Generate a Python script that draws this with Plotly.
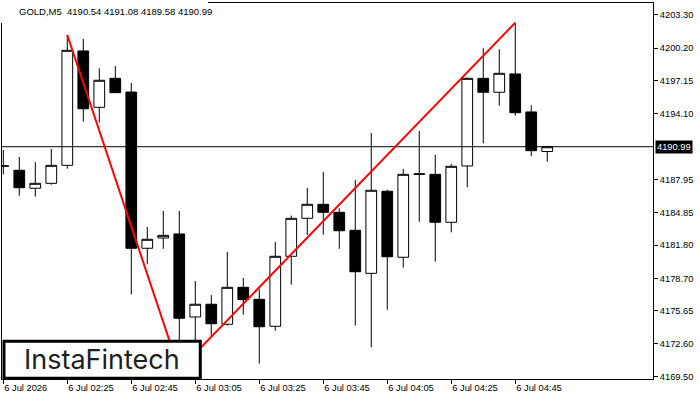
import plotly.graph_objects as go
import pandas as pd

# ---- data ----
times = ["2026-07-06 02:05", "2026-07-06 02:10", "2026-07-06 02:15", "2026-07-06 02:20",
         "2026-07-06 02:25", "2026-07-06 02:30", "2026-07-06 02:35", "2026-07-06 02:40",
         "2026-07-06 02:45", "2026-07-06 02:50", "2026-07-06 02:55", "2026-07-06 03:00",
         "2026-07-06 03:05", "2026-07-06 03:10", "2026-07-06 03:15", "2026-07-06 03:20",
         "2026-07-06 03:25", "2026-07-06 03:30", "2026-07-06 03:35", "2026-07-06 03:40",
         "2026-07-06 03:45", "2026-07-06 03:50", "2026-07-06 03:55", "2026-07-06 04:00",
         "2026-07-06 04:05", "2026-07-06 04:10", "2026-07-06 04:15", "2026-07-06 04:20",
         "2026-07-06 04:25", "2026-07-06 04:30", "2026-07-06 04:35", "2026-07-06 04:40",
         "2026-07-06 04:45", "2026-07-06 04:50", "2026-07-06 04:55"]
open_ = [4189.19, 4188.79, 4187.11, 4187.57, 4189.25, 4199.94, 4194.67, 4197.38, 4196.10, 4181.50,
         4182.46, 4182.84, 4175.08, 4176.27, 4174.40, 4177.85, 4176.73, 4174.21, 4180.75, 4184.30,
         4185.61, 4184.86, 4183.18, 4179.16, 4186.83, 4180.66, 4188.41, 4188.41, 4183.93, 4189.19,
         4197.38, 4196.08, 4197.79, 4194.24, 4190.54]
high = [4190.68, 4190.03, 4189.54, 4190.78, 4201.43, 4201.06, 4198.32, 4198.53, 4196.95, 4183.49,
        4184.98, 4184.98, 4178.44, 4177.13, 4181.15, 4178.72, 4177.67, 4182.09, 4184.55, 4187.13,
        4188.63, 4185.24, 4187.88, 4192.27, 4186.97, 4188.91, 4192.46, 4190.22, 4189.35, 4197.45,
        4200.19, 4200.09, 4202.58, 4194.86, 4191.08]
low = [4188.41, 4186.41, 4186.32, 4187.44, 4188.94, 4193.33, 4193.24, 4196.04, 4177.20, 4180.00,
       4181.46, 4170.13, 4172.00, 4173.24, 4174.27, 4175.29, 4170.72, 4173.80, 4178.10, 4182.74,
       4182.77, 4181.46, 4174.27, 4172.25, 4175.76, 4179.69, 4183.98, 4180.25, 4182.99, 4187.20,
       4191.31, 4194.82, 4193.89, 4190.10, 4189.58]
close = [4189.19, 4187.16, 4187.57, 4189.25, 4200.00, 4194.54, 4197.20, 4196.04, 4181.50, 4182.34,
         4182.71, 4174.96, 4176.27, 4174.45, 4177.85, 4176.70, 4174.17, 4180.75, 4184.30, 4185.61,
         4184.86, 4183.14, 4179.31, 4186.92, 4180.71, 4188.41, 4188.45, 4183.93, 4189.16, 4197.38,
         4196.08, 4197.85, 4194.17, 4190.62, 4190.99]

# pattern (red lines): top -> bottom -> top
pattern_idx = [4, 11, 32]
pattern_kind = ["high", "low", "high"]

x_tick_times = ["2026-07-06 02:05", "2026-07-06 02:25", "2026-07-06 02:45", "2026-07-06 03:05",
                "2026-07-06 03:25", "2026-07-06 03:45", "2026-07-06 04:05", "2026-07-06 04:25",
                "2026-07-06 04:45"]
x_tick_text = ["6 Jul 2026", "6 Jul 02:25", "6 Jul 02:45", "6 Jul 03:05", "6 Jul 03:25",
               "6 Jul 03:45", "6 Jul 04:05", "6 Jul 04:25", "6 Jul 04:45"]
y_tick_vals = [4203.30, 4200.20, 4197.15, 4194.10, 4187.95, 4184.85, 4181.80, 4178.70,
               4175.65, 4172.60, 4169.50]

symbol = "GOLD,M5"
last_price = close[-1]

# ---- layout geometry ----
W, H = 700, 400
L, R, T, B = 2, 47, 3, 21
pw, ph = W - L - R, H - T - B
def px(xp): return (xp - L) / pw
def py(yp): return (H - B - yp) / ph

t0 = pd.Timestamp(times[0])
bar = pd.Timedelta(minutes=5)
x_range = [t0 - 0.081 * bar, t0 + 40.61 * bar]
y_range = [4169.285, 4204.42]

FONT = "Liberation Sans"

fig = go.Figure()
fig.add_trace(go.Candlestick(
    x=times, open=open_, high=high, low=low, close=close,
    increasing=dict(line=dict(color="black", width=1), fillcolor="white"),
    decreasing=dict(line=dict(color="black", width=1), fillcolor="black"),
    whiskerwidth=0, showlegend=False, hoverinfo="skip",
))

# current price line
fig.add_trace(go.Scatter(x=[x_range[0], x_range[1]], y=[last_price, last_price], mode="lines",
                         line=dict(color="black", width=1), showlegend=False, hoverinfo="skip"))

# red pattern lines
src = {"high": high, "low": low}
fig.add_trace(go.Scatter(x=[times[i] for i in pattern_idx],
                         y=[src[k][i] for i, k in zip(pattern_idx, pattern_kind)],
                         mode="lines", line=dict(color="#ff0000", width=2),
                         showlegend=False, hoverinfo="skip"))

fig.update_layout(
    width=W, height=H, margin=dict(l=L, r=R, t=T, b=B),
    paper_bgcolor="white", plot_bgcolor="white",
    font=dict(family=FONT, size=9.3, color="black"),
    boxgap=0.33, boxgroupgap=0,
    xaxis=dict(type="date", range=x_range, rangeslider=dict(visible=False),
               showgrid=False, zeroline=False, showline=True, linecolor="black", linewidth=1,
               mirror=True, ticks="outside", ticklen=4, tickcolor="black", tickwidth=1,
               tickvals=x_tick_times, ticktext=x_tick_text,
               ticklabelposition="outside right",
               tickfont=dict(family=FONT, size=9.3, color="black")),
    yaxis=dict(range=y_range, side="right", showgrid=False, zeroline=False,
               showline=True, linecolor="black", linewidth=1, mirror=True,
               ticks="outside", ticklen=4, tickcolor="black", tickwidth=1,
               tickvals=y_tick_vals, ticktext=[f"{v:.2f}" for v in y_tick_vals],
               tickfont=dict(family=FONT, size=9.3, color="black")),
)

shapes = [
    # white background behind title (hides frame there)
    dict(type="rect", xref="paper", yref="paper", x0=px(-1), x1=px(208), y0=py(23), y1=py(-1),
         fillcolor="white", line=dict(width=0), layer="above"),
    # logo box
    dict(type="rect", xref="paper", yref="paper", x0=px(4), x1=px(200.3), y0=py(378.3), y1=py(341.3),
         fillcolor="white", line=dict(color="black", width=3), layer="above"),
]
fig.update_layout(shapes=shapes)

annotations = [
    dict(text=f"{symbol}  {open_[-1]:.2f} {high[-1]:.2f} {low[-1]:.2f} {close[-1]:.2f}",
         xref="paper", yref="paper", x=px(17), y=py(11), xanchor="left", yanchor="middle",
         showarrow=False, font=dict(family=FONT, size=9.5, color="black")),
    dict(text=f"{last_price:.2f}", xref="paper", yref="y", x=px(655), y=last_price,
         xanchor="left", yanchor="middle", showarrow=False, bgcolor="black", borderpad=1,
         font=dict(family=FONT, size=9.3, color="white")),
    dict(text="InstaFintech", xref="paper", yref="paper", x=px(101.5), y=py(359.5),
         xanchor="center", yanchor="middle", showarrow=False,
         font=dict(family="Inter", size=27, color="#1e1e1e")),
]
fig.update_layout(annotations=annotations)

fig.write_html("out.html")
